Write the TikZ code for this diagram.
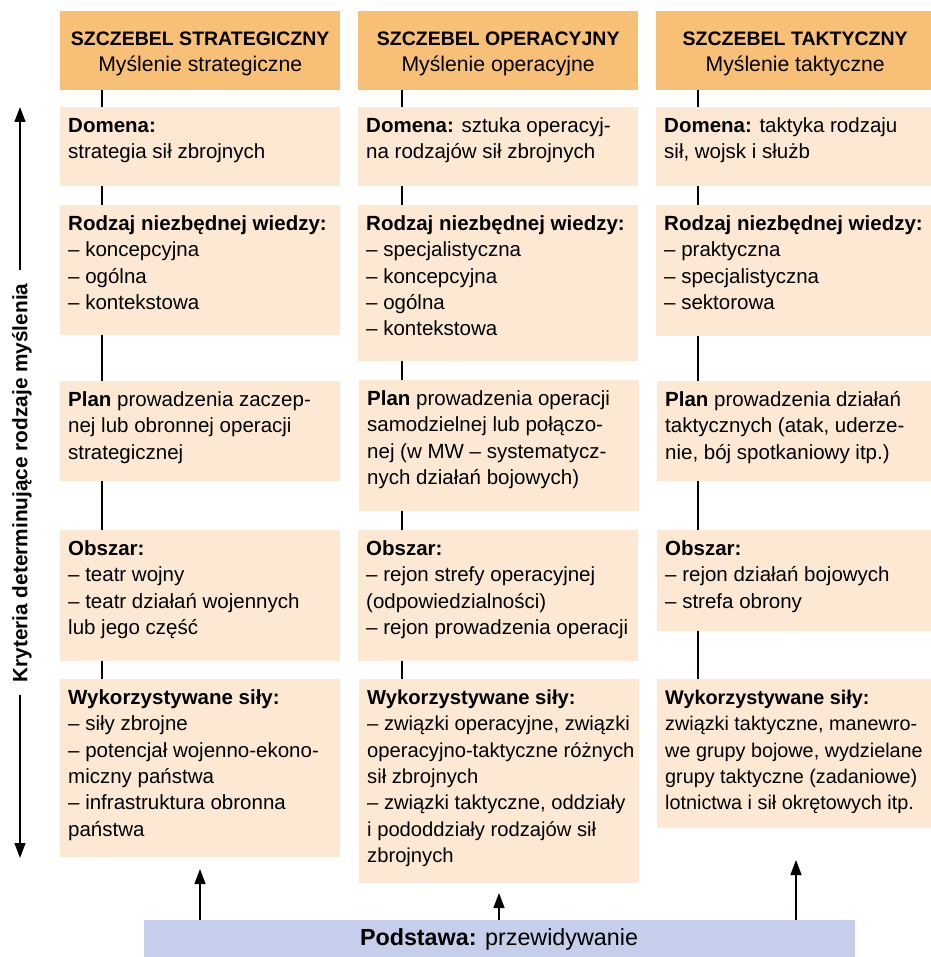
\documentclass[tikz,border=0pt]{standalone}
\usepackage{fontspec}
\setmainfont{Liberation Sans}
\usetikzlibrary{arrows.meta}
\definecolor{headfill}{RGB}{248,191,118}
\definecolor{cellfill}{RGB}{253,233,211}
\definecolor{basefill}{RGB}{197,206,234}
\tikzset{
  headbox/.style={fill=headfill, draw=none, anchor=north west, inner sep=0pt, minimum height=79pt},
  cellbox/.style={fill=cellfill, draw=none, anchor=north west, inner sep=0pt},
  celltext/.style={anchor=base west, inner sep=0pt, font=\fontsize{20.5}{26.3}\selectfont},
  headtext/.style={anchor=base, inner sep=0pt, font=\fontsize{21.2}{26}\selectfont},
  link/.style={line width=1.4pt, black},
  arr/.style={line width=1.3pt, black, -{Triangle[length=15pt,width=11pt]}},
}
% [text options], name, left, top, width, height, lines
\newcommand\cellnode[7][]{%
  \node[cellbox, minimum width=#5pt, minimum height=#6pt] (#2) at (#3,#4) {};
  \node[celltext,#1] (#2-txt) at ([shift={(8pt,-25.5pt)}]#2.north west)
    {\begin{tabular}[t]{@{}l@{}}#7\end{tabular}};
}
\newcommand\headnode[5]{% name, left, width, title, subtitle
  \node[headbox, minimum width=#3pt] (#1) at (#2,11) {};
  \node[headtext] (#1-txt) at ([yshift=-35pt]#1.north)
    {\begin{tabular}[t]{@{}c@{}}{\fontsize{19.5}{26}\selectfont\bfseries #4}\\#5\end{tabular}};
}
\begin{document}
\begin{tikzpicture}[x=1pt, y=-1pt]
\useasboundingbox (0,0) rectangle (930,957);

% level headers
\headnode{hA}{60}{280}{SZCZEBEL STRATEGICZNY}{Myślenie strategiczne}
\headnode{hB}{358}{280}{SZCZEBEL OPERACYJNY}{Myślenie operacyjne}
\headnode{hC}{656}{278}{SZCZEBEL TAKTYCZNY}{Myślenie taktyczne}

% strategic column
\cellnode{dA}{60}{107}{280}{79}{\textbf{Domena:}\\strategia sił zbrojnych}
\cellnode{rA}{60}{205}{280}{130}{\textbf{Rodzaj niezbędnej wiedzy:}\\– koncepcyjna\\– ogólna\\– kontekstowa}
\cellnode{pA}{60}{381}{280}{100}{\textbf{Plan} prowadzenia zaczep-\\nej lub obronnej operacji\\strategicznej}
\cellnode{oA}{60}{530}{280}{131}{\textbf{Obszar:}\\– teatr wojny\\– teatr działań wojennych\\lub jego część}
\cellnode{wA}{60}{679}{280}{178}{\textbf{Wykorzystywane siły:}\\– siły zbrojne\\– potencjał wojenno-ekono-\\miczny państwa\\– infrastruktura obronna\\państwa}

% operational column
\cellnode{dB}{358}{107}{280}{79}{\textbf{Domena:} sztuka operacyj-\\na rodzajów sił zbrojnych}
\cellnode{rB}{358}{205}{280}{156}{\textbf{Rodzaj niezbędnej wiedzy:}\\– specjalistyczna\\– koncepcyjna\\– ogólna\\– kontekstowa}
\cellnode{pB}{359}{380}{280}{131}{\textbf{Plan} prowadzenia operacji\\samodzielnej lub połączo-\\nej (w MW – systematycz-\\nych działań bojowych)}
\cellnode{oB}{358}{530}{280}{131}{\textbf{Obszar:}\\– rejon strefy operacyjnej\\(odpowiedzialności)\\– rejon prowadzenia operacji}
\cellnode[font=\fontsize{20.2}{26.3}\selectfont]{wB}{359}{679}{280}{204}{\textbf{Wykorzystywane siły:}\\– związki operacyjne, związki\\operacyjno-taktyczne różnych\\sił zbrojnych\\– związki taktyczne, oddziały\\i pododdziały rodzajów sił\\zbrojnych}

% tactical column
\cellnode{dC}{656}{107}{278}{79}{\textbf{Domena:} taktyka rodzaju\\sił, wojsk i służb}
\cellnode{rC}{656}{205}{278}{131}{\textbf{Rodzaj niezbędnej wiedzy:}\\– praktyczna\\– specjalistyczna\\– sektorowa}
\cellnode{pC}{657}{381}{278}{100}{\textbf{Plan} prowadzenia działań\\taktycznych (atak, uderze-\\nie, bój spotkaniowy itp.)}
\cellnode{oC}{657}{530}{278}{101}{\textbf{Obszar:}\\– rejon działań bojowych\\– strefa obrony}
\cellnode[font=\fontsize{19.8}{26.3}\selectfont]{wC}{657}{679}{278}{149}{\textbf{Wykorzystywane siły:}\\związki taktyczne, manewro-\\we grupy bojowe, wydzielane\\grupy taktyczne (zadaniowe)\\lotnictwa i sił okrętowych itp.}

% vertical spines of the columns
\coordinate (lA) at (102,0);
\coordinate (lB) at (402,0);
\coordinate (lC) at (698,0);
\foreach \c in {A,B,C} {
  \draw[link] (h\c.south -| l\c) -- (d\c.north -| l\c);
  \draw[link] (d\c.south -| l\c) -- (r\c.north -| l\c);
  \draw[link] (r\c.south -| l\c) -- (p\c.north -| l\c);
  \draw[link] (p\c.south -| l\c) -- (o\c.north -| l\c);
  \draw[link] (o\c.south -| l\c) -- (w\c.north -| l\c);
}

% foundation bar and its arrows
\node[fill=basefill, anchor=north west, inner sep=0pt, minimum width=711pt, minimum height=40pt] (base) at (144,920) {};
\node[anchor=base, inner sep=0pt, font=\fontsize{23.3}{26}\selectfont] (base-txt) at (499,945) {\textbf{Podstawa:} przewidywanie};
\coordinate (aA) at (200,869);
\coordinate (aB) at (499,893);
\coordinate (aC) at (796,860);
\draw[arr] (base.north -| aA) -- (aA);
\draw[arr] (base.north -| aB) -- (aB);
\draw[arr] (base.north -| aC) -- (aC);

% criteria axis on the left
\node[rotate=90, inner sep=0pt, font=\fontsize{20.8}{24}\selectfont\bfseries] (crit) at (22,483) {Kryteria determinujące rodzaje myślenia};
\coordinate (kt) at (20,107);
\coordinate (kb) at (20,858);
\draw[arr, shorten <=13pt] (crit.east -| kt) -- (kt);
\draw[arr, shorten <=12pt] (crit.west -| kb) -- (kb);
\end{tikzpicture}
\end{document}
